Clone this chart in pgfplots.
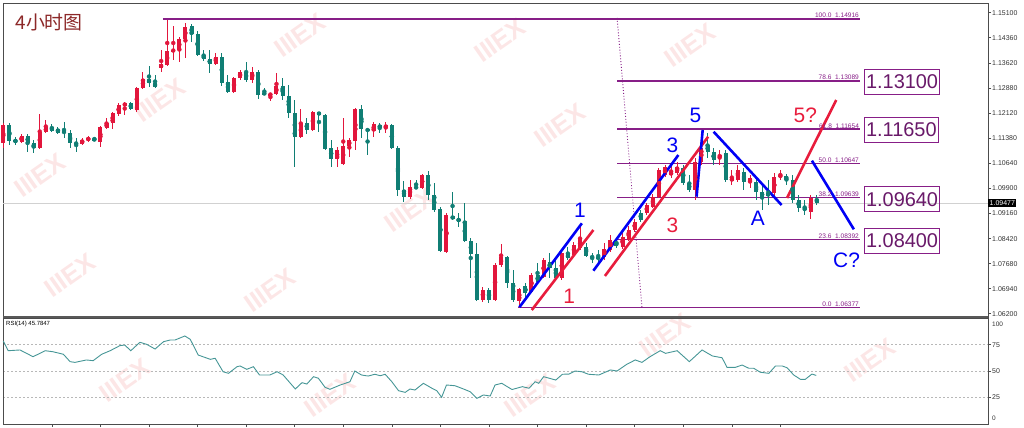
\documentclass[border=0pt]{standalone}
\usepackage{fontspec}
\setmainfont{Liberation Sans}
\newfontfamily\cjk{Noto Sans CJK SC}
\usepackage{pgfplots}
\usepackage{pgfplotstable}
\pgfplotsset{compat=1.18}

\definecolor{upc}{RGB}{226,22,60}
\definecolor{dnc}{RGB}{16,126,116}
\definecolor{fib}{RGB}{135,30,135}
\definecolor{fibtxt}{RGB}{105,25,105}
\definecolor{wblue}{RGB}{0,0,245}
\definecolor{wred}{RGB}{232,28,60}
\definecolor{rsic}{RGB}{70,150,150}
\definecolor{wm}{RGB}{252,230,230}
\definecolor{ttl}{RGB}{140,40,40}

% 4h candles: i open high low close
\pgfplotstableread{
i o h l c
0 1.11248 1.11840 1.11100 1.11781
3 1.11278 1.11514 1.11248 1.11455
6 1.11100 1.12106 1.11071 1.11573
7 1.11573 1.11928 1.11544 1.11721
13 1.11219 1.11396 1.11189 1.11337
14 1.11337 1.11455 1.11278 1.11396
16 1.11278 1.11751 1.11130 1.11721
17 1.11692 1.11988 1.11662 1.11840
18 1.11840 1.12165 1.11662 1.12136
19 1.12106 1.12431 1.12047 1.12372
20 1.12343 1.12461 1.12076 1.12431
22 1.12224 1.12905 1.12165 1.12875
23 1.12875 1.13348 1.12845 1.13141
26 1.13467 1.13999 1.13348 1.13585
27 1.13555 1.14886 1.13526 1.13969
28 1.13969 1.14709 1.13703 1.13999
29 1.13999 1.14384 1.13644 1.14324
30 1.14324 1.14798 1.13762 1.14679
35 1.13585 1.13910 1.13555 1.13792
38 1.12757 1.13200 1.12727 1.13171
39 1.13171 1.13407 1.13112 1.13348
41 1.13112 1.13496 1.13023 1.13348
44 1.12668 1.12727 1.12490 1.12698
45 1.12698 1.13319 1.12668 1.12934
49 1.11426 1.12254 1.11396 1.11840
51 1.11633 1.12195 1.11603 1.12165
55 1.10775 1.11130 1.10538 1.11041
56 1.10627 1.11988 1.10597 1.11159
57 1.11159 1.11396 1.10834 1.11337
58 1.11307 1.12283 1.11041 1.12254
61 1.11603 1.11869 1.11426 1.11810
63 1.11692 1.11869 1.11544 1.11781
67 1.09651 1.10154 1.09592 1.09947
69 1.09917 1.10331 1.09887 1.10302
73 1.08024 1.09178 1.07994 1.09118
79 1.06608 1.06989 1.06545 1.06900
81 1.06608 1.07699 1.06574 1.07639
82 1.07639 1.08261 1.07580 1.07876
85 1.06574 1.06959 1.06377 1.06929
87 1.06841 1.07403 1.06811 1.07344
89 1.07284 1.07846 1.07255 1.07787
92 1.07255 1.08024 1.07196 1.07994
94 1.07935 1.08320 1.07876 1.08231
95 1.08142 1.08763 1.08083 1.08408
99 1.07876 1.08290 1.07787 1.08113
100 1.08083 1.08527 1.08024 1.08379
102 1.08172 1.08586 1.08113 1.08468
103 1.08379 1.08793 1.08349 1.08675
104 1.08675 1.09000 1.08615 1.08911
106 1.09178 1.09473 1.09118 1.09414
107 1.09355 1.09740 1.09325 1.09651
108 1.09651 1.10509 1.09621 1.10449
109 1.10302 1.10597 1.10242 1.10538
110 1.10302 1.10597 1.10213 1.10390
111 1.10361 1.10686 1.10302 1.10538
114 1.09858 1.10804 1.09562 1.10686
115 1.10686 1.11396 1.10597 1.11100
118 1.10834 1.11041 1.10597 1.10893
120 1.10124 1.10449 1.10006 1.10213
121 1.10154 1.10597 1.10094 1.10449
123 1.10094 1.10302 1.09917 1.10213
127 1.09769 1.10361 1.09651 1.10242
128 1.10242 1.10449 1.10154 1.10302
133 1.09207 1.09710 1.09000 1.09621
}\upcandles

\pgfplotstableread{
i o h l c
1 1.11781 1.11840 1.11189 1.11307
2 1.11337 1.11426 1.11189 1.11278
4 1.11455 1.11514 1.10982 1.11248
5 1.11248 1.11337 1.10952 1.11100
8 1.11721 1.11810 1.11573 1.11603
9 1.11662 1.11721 1.11514 1.11544
10 1.11603 1.11869 1.11396 1.11544
11 1.11544 1.11633 1.11100 1.11248
12 1.11248 1.11396 1.10982 1.11219
15 1.11367 1.11426 1.11307 1.11337
21 1.12431 1.12461 1.12224 1.12254
24 1.13141 1.13526 1.12905 1.13023
25 1.13023 1.13260 1.12875 1.12905
31 1.14709 1.14768 1.14236 1.14472
32 1.14472 1.14561 1.13822 1.13851
33 1.13851 1.13999 1.13674 1.13733
34 1.13733 1.13999 1.13319 1.13585
36 1.13792 1.13910 1.12934 1.13023
37 1.13052 1.13260 1.12727 1.12757
40 1.13348 1.13644 1.13052 1.13112
42 1.13348 1.13407 1.12550 1.12668
43 1.12727 1.12875 1.12668 1.12698
46 1.12934 1.13171 1.12520 1.12638
47 1.12638 1.12964 1.11988 1.12136
48 1.12136 1.12520 1.10538 1.11426
50 1.11840 1.11988 1.11514 1.11633
52 1.12165 1.12165 1.11573 1.12076
53 1.12076 1.12106 1.11041 1.11071
54 1.11100 1.11337 1.10538 1.10775
59 1.12254 1.12372 1.11396 1.11662
60 1.11662 1.11692 1.10893 1.11603
62 1.11781 1.11840 1.11544 1.11692
64 1.11781 1.11810 1.11071 1.11100
65 1.11100 1.11159 1.09680 1.09858
66 1.09858 1.10124 1.09503 1.09651
68 1.09947 1.10154 1.09887 1.09917
70 1.10302 1.10420 1.09562 1.09710
71 1.09710 1.10065 1.09207 1.09266
72 1.09296 1.09355 1.08024 1.08053
74 1.09089 1.09799 1.08970 1.09000
75 1.09000 1.09178 1.08763 1.08941
76 1.08941 1.09473 1.08320 1.08349
77 1.08349 1.08438 1.07255 1.07965
78 1.07965 1.08290 1.06574 1.06608
80 1.06900 1.06959 1.06515 1.06608
83 1.07876 1.07906 1.06959 1.07107
84 1.07107 1.07491 1.06545 1.06608
86 1.07018 1.07107 1.06693 1.06811
88 1.07344 1.07699 1.07107 1.07136
90 1.07728 1.07994 1.07255 1.07551
91 1.07551 1.07787 1.07196 1.07255
93 1.07965 1.08172 1.07787 1.07846
96 1.08172 1.08290 1.07876 1.07906
97 1.07906 1.07994 1.07699 1.07846
98 1.07876 1.08083 1.07728 1.07817
101 1.08320 1.08438 1.08142 1.08201
105 1.09178 1.09266 1.08911 1.08970
112 1.10509 1.10597 1.10006 1.10065
113 1.10065 1.10302 1.09799 1.09858
116 1.11189 1.11544 1.10804 1.10982
117 1.10982 1.11100 1.10597 1.10745
119 1.10952 1.11041 1.10094 1.10154
122 1.10390 1.10509 1.09858 1.10094
124 1.10094 1.10213 1.09562 1.09799
125 1.09799 1.10006 1.09266 1.09651
126 1.09769 1.10154 1.09414 1.09680
129 1.10272 1.10331 1.10006 1.10154
130 1.10154 1.10302 1.09473 1.09562
131 1.09562 1.09710 1.09207 1.09325
132 1.09325 1.09562 1.09118 1.09266
134 1.09592 1.09710 1.09414 1.09473
}\dncandles

% RSI(14)
\pgfplotstableread{
i r
0.0 78.5
0.8 69.3
2.75 70.0
4.9 63.6
6.9 69.3
8.2 68.3
9.9 65.9
11.0 58.9
11.8 58.2
13.7 60.5
14.8 59.8
16.2 65.9
17.6 69.3
19.2 74.1
20.0 74.7
21.0 69.3
22.5 77.3
23.6 75.4
25.0 70.9
26.4 77.9
27.5 79.5
28.3 79.5
29.9 83.3
30.8 80.1
32.1 65.2
34.1 61.1
34.9 62.1
36.2 49.3
37.1 47.8
38.5 54.1
39.0 54.8
40.1 51.6
41.2 54.1
42.2 46.2
43.9 46.2
45.1 49.3
46.1 46.2
48.1 32.9
49.2 38.9
50.0 37.6
51.1 44.6
51.9 43.1
53.0 34.5
53.8 32.6
55.5 36.7
57.1 39.8
57.9 50.0
59.0 46.2
60.1 45.2
61.2 46.9
62.1 45.5
62.9 46.9
64.0 39.8
65.1 31.3
66.2 29.7
67.0 32.9
67.8 31.9
69.2 38.3
70.6 33.6
71.4 31.3
72.2 25.0
73.0 36.7
74.4 36.0
75.8 32.9
76.9 30.3
78.0 24.0
79.1 27.2
80.2 26.2
81.0 36.7
82.1 38.3
83.8 32.4
85.5 35.1
86.6 33.6
87.6 39.8
88.2 38.3
89.0 44.6
91.0 41.4
92.1 46.9
93.2 47.1
94.2 50.0
95.3 49.3
96.4 46.9
98.1 46.2
100.0 51.0
101.1 50.0
102.7 56.4
104.1 60.5
105.2 58.2
106.5 63.5
108.2 69.3
109.1 66.8
111.0 69.3
113.0 58.9
115.1 70.0
116.8 64.3
118.4 62.6
119.2 53.5
120.6 53.5
121.7 55.7
122.8 52.6
123.6 52.6
124.7 48.8
126.1 47.8
127.2 54.8
128.3 54.8
129.1 53.1
130.2 46.2
131.3 42.1
132.1 42.1
133.2 47.1
133.9 45.8
}\rsidata

\pgfplotsset{
  wick/.style={only marks, mark=none, error bars/.cd, y dir=both, y explicit, error mark=none, error bar style={line width=1bp}},
  body/.style={only marks, mark=none, error bars/.cd, y dir=both, y explicit, error mark=none, error bar style={line width=4bp}},
  fibline/.style={fib, line width=1.6bp},
}
\tikzset{
  fiblab/.style={anchor=south east, font=\fontsize{6.6}{7}\selectfont, text=fib, inner sep=0.8bp},
  fibbox/.style={draw=fib, line width=0.8bp, anchor=west, text=fibtxt, font=\fontsize{20}{20}\selectfont, inner sep=1.5bp, minimum height=25bp},
  wlab/.style={font=\fontsize{21}{21}\selectfont},
}

\begin{document}
\begin{tikzpicture}
\path[use as bounding box] (0,0) rectangle (1024bp,-428bp);

% watermark
\foreach \px/\py in {40/175,160/100,300/35,70/275,270/290,410/210,500/40,560/125,690/45,125/380,330/395,665/335,870/360,530/395}{
  \node[rotate=35, text=wm, font=\bfseries\fontsize{26}{26}\selectfont] at (\px bp,-\py bp) {IIIEX};
}

\node[anchor=west, text=ttl, font=\cjk\fontsize{19}{19}\selectfont] at (12bp,-22bp) {4小时图};

\begin{axis}[
  at={(3bp,-3bp)}, anchor=north west,
  scale only axis, width=985bp, height=314bp,
  xmin=-0.05, xmax=162.2, ymin=1.06101, ymax=1.15389,
  clip=false,
  axis line style={black!70, line width=0.8bp},
  xtick=\empty,
  ytick={1.06200,1.06940,1.07680,1.08420,1.09160,1.09900,1.10640,1.11380,1.12120,1.12880,1.13620,1.14360,1.15100},
  yticklabels={1.06200,1.06940,1.07680,1.08420,1.09160,1.09900,1.10640,1.11380,1.12120,1.12880,1.13620,1.14360,1.15100},
  ytick pos=right, tick align=outside, major tick length=3bp,
  tick style={black!70, line width=0.6bp},
  yticklabel style={font=\fontsize{7}{8}\selectfont, text=black!80, inner sep=1bp},
]
% current price line
\addplot[black!18, line width=0.6bp] coordinates {(-0.05,1.09477) (162.2,1.09477)};

% fibonacci levels
\addplot[fibline] coordinates {(26.3,1.14916) (141.1,1.14916)};
\addplot[fibline] coordinates {(101.1,1.13089) (141.1,1.13089)};
\addplot[fibline] coordinates {(101.1,1.11654) (141.1,1.11654)};
\addplot[fibline] coordinates {(101.1,1.10647) (141.1,1.10647)};
\addplot[fibline] coordinates {(101.1,1.09639) (141.1,1.09639)};
\addplot[fibline] coordinates {(101.1,1.08392) (141.1,1.08392)};
\addplot[fibline] coordinates {(84.8,1.06377) (141.1,1.06377)};
\addplot[fib, line width=0.9bp, dotted] coordinates {(101.1,1.14946) (105.2,1.06397)};

% candles
\addplot[upc, wick] table[x=i, y expr={(\thisrow{h}+\thisrow{l})/2}, y error expr={(\thisrow{h}-\thisrow{l})/2}] {\upcandles};
\addplot[dnc, wick] table[x=i, y expr={(\thisrow{h}+\thisrow{l})/2}, y error expr={(\thisrow{h}-\thisrow{l})/2}] {\dncandles};
\addplot[upc, body] table[x=i, y expr={(\thisrow{o}+\thisrow{c})/2}, y error expr={max(abs(\thisrow{c}-\thisrow{o})/2,0.00003)}] {\upcandles};
\addplot[dnc, body] table[x=i, y expr={(\thisrow{o}+\thisrow{c})/2}, y error expr={max(abs(\thisrow{c}-\thisrow{o})/2,0.00003)}] {\dncandles};

% wave count lines
\addplot[wblue, line width=2.6bp] coordinates {(85.0,1.06388) (95.3,1.08873)};
\addplot[wred, line width=2.6bp] coordinates {(87.05,1.06308) (97.2,1.08675)};
\addplot[wblue, line width=2.6bp] coordinates {(97.2,1.07471) (111.2,1.10893)};
\addplot[wred, line width=2.6bp] coordinates {(99.1,1.07314) (116.1,1.11434)};
\addplot[wblue, line width=2.6bp] coordinates {(114.2,1.09660) (115.2,1.11633)};
\addplot[wblue, line width=2.6bp] coordinates {(117.0,1.11582) (128.2,1.09414)};
\addplot[wred, line width=2.6bp] coordinates {(129.1,1.09621) (137.2,1.12520)};
\addplot[wblue, line width=2.6bp] coordinates {(133.2,1.10725) (140.1,1.08695)};

\node[wlab, text=wblue] at (axis cs:95.0,1.09266) {1};
\node[wlab, text=wred] at (axis cs:93.2,1.06702) {1};
\node[wlab, text=wblue] at (axis cs:110.2,1.11189) {3};
\node[wlab, text=wred] at (axis cs:110.2,1.08822) {3};
\node[wlab, text=wblue] at (axis cs:114.0,1.12076) {5};
\node[wlab, text=wred] at (axis cs:132.1,1.12076) {5?};
\node[wlab, text=wblue] at (axis cs:124.3,1.09021) {A};
\node[wlab, text=wblue] at (axis cs:138.9,1.07787) {C?};

% fibonacci labels
\node[fiblab] at (axis cs:141.1,1.14916) {100.0\ \ 1.14916};
\node[fiblab] at (axis cs:141.1,1.13089) {78.6\ \ 1.13089};
\node[fiblab] at (axis cs:141.1,1.11654) {61.8\ \ 1.11654};
\node[fiblab] at (axis cs:141.1,1.10647) {50.0\ \ 1.10647};
\node[fiblab] at (axis cs:141.1,1.09639) {38.2\ \ 1.09639};
\node[fiblab] at (axis cs:141.1,1.08392) {23.6\ \ 1.08392};
\node[fiblab] at (axis cs:141.1,1.06377) {0.0\ \ 1.06377};

\node[fibbox] at (axis cs:141.8,1.13060) {1.13100};
\node[fibbox] at (axis cs:141.8,1.11630) {1.11650};
\node[fibbox] at (axis cs:141.8,1.09580) {1.09640};
\node[fibbox] at (axis cs:141.8,1.08360) {1.08400};

\node[fill=black, text=white, anchor=west, font=\fontsize{7}{7}\selectfont, inner sep=1.5bp] at (axis cs:162.2,1.09477) {1.09477};

\draw[black!65, line width=2.6bp] (rel axis cs:0,0) -- (rel axis cs:1,0);
\end{axis}

\begin{axis}[
  at={(3bp,-318bp)}, anchor=north west,
  scale only axis, width=985bp, height=106bp,
  xmin=-0.05, xmax=162.2, ymin=-0.4, ymax=100.4,
  clip=false,
  axis line style={black!70, line width=0.8bp},
  xtick={8,16,...,128}, xticklabels={}, xtick pos=bottom,
  ytick={25,50,75}, yticklabels={25,50,75}, ytick pos=right,
  tick align=outside, major tick length=3bp,
  tick style={black!70, line width=0.6bp},
  yticklabel style={font=\fontsize{7}{8}\selectfont, text=black!80, inner sep=1bp},
  ymajorgrids, major grid style={black!28, dash pattern=on 2bp off 2bp, line width=0.6bp},
]
\addplot[rsic, line width=0.9bp] table[x=i, y=r] {\rsidata};
\node[anchor=north west, font=\fontsize{6}{7}\selectfont, inner sep=0pt] at ([xshift=3bp, yshift=-3bp]rel axis cs:0,1) {RSI(14) 45.7847};
\node[anchor=west, font=\fontsize{6.5}{7}\selectfont, text=black!80, inner sep=1bp] at ([xshift=3bp]axis cs:162.2,94.0) {100};
\node[anchor=west, font=\fontsize{6.5}{7}\selectfont, text=black!80, inner sep=1bp] at ([xshift=3bp]axis cs:162.2,5.3) {0};
\end{axis}
\end{tikzpicture}
\end{document}
